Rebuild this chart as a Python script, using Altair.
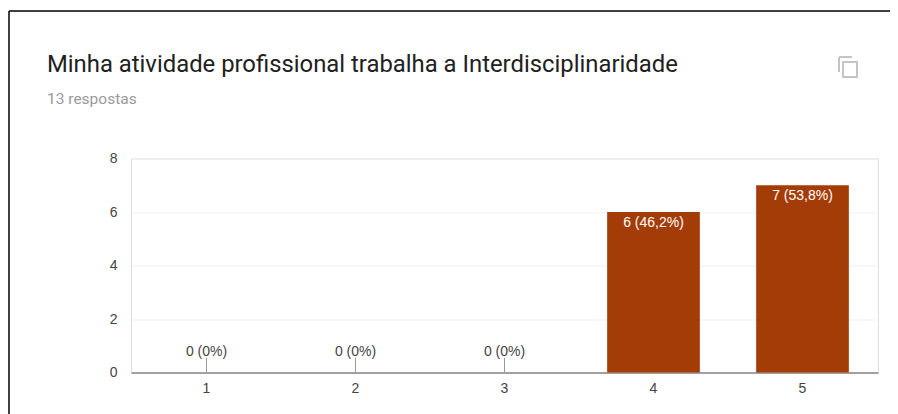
import altair as alt
import pandas as pd

categories = ["1", "2", "3", "4", "5"]
counts = [0, 0, 0, 6, 7]
labels = ["0 (0%)", "0 (0%)", "0 (0%)", "6 (46,2%)", "7 (53,8%)"]
stem_tops = [0.55, 0.55, 0.55, 0, 0]
title_text = "Minha atividade profissional trabalha a Interdisciplinaridade"
subtitle_text = "13 respostas"

df = pd.DataFrame({"cat": categories, "n": counts, "label": labels, "stem": stem_tops})
one = df.head(1)

x = alt.X("cat:N", sort=categories, title=None,
          scale=alt.Scale(paddingInner=0.378, paddingOuter=0.1957),
          axis=alt.Axis(labelAngle=0, ticks=False, grid=False, domainColor="#555555",
                        domainWidth=1.2, labelColor="#444444", labelFont="Liberation Sans",
                        labelFontSize=14, labelPadding=9))
y = alt.Y("n:Q", title=None, scale=alt.Scale(domain=[0, 8], nice=False),
          axis=alt.Axis(values=[0, 2, 4, 6, 8], ticks=False, domain=False, grid=True,
                        gridColor="#efefef", labelColor="#444444", labelFont="Liberation Sans",
                        labelFontSize=14, labelPadding=14))

bars = alt.Chart(df).mark_bar(color="#a43c07").encode(x=x, y=y)
stems = alt.Chart(df).transform_filter("datum.n == 0").mark_rule(color="#999999", strokeWidth=1).encode(
    x=alt.X("cat:N", sort=categories), y=alt.Y("n:Q"), y2=alt.Y2("stem:Q"))
zero_text = alt.Chart(df).transform_filter("datum.n == 0").mark_text(
    font="Liberation Sans", fontSize=14, color="#444444", dy=-21).encode(
    x=alt.X("cat:N", sort=categories), y=alt.Y("n:Q"), text="label:N")
bar_text = alt.Chart(df).transform_filter("datum.n > 0").mark_text(
    font="Liberation Sans", fontSize=14, color="#ffffff", dy=10.5).encode(
    x=alt.X("cat:N", sort=categories), y=alt.Y("n:Q"), text="label:N")

title_mark = alt.Chart(one).mark_text(
    text=title_text, font="Roboto", fontSize=23.85, color="#212121", align="left", baseline="alphabetic").encode(
    x=alt.value(-84), y=alt.value(-86.5))
subtitle_mark = alt.Chart(one).mark_text(
    text=subtitle_text, font="Roboto", fontSize=15.5, color="#9a9a9a", align="left", baseline="alphabetic").encode(
    x=alt.value(-84), y=alt.value(-54.5))

# page frame and copy icon (decoration, not data)
frame_top = alt.Chart(one).mark_rule(color="#000000", strokeWidth=1.5, clip=False).encode(
    x=alt.value(-122), x2=alt.value(770), y=alt.value(-147.5))
frame_left = alt.Chart(one).mark_rule(color="#000000", strokeWidth=1.5, clip=False).encode(
    x=alt.value(-122), y=alt.value(-147.5), y2=alt.value(260))
icon_front = alt.Chart(one).mark_rect(fill="#ffffff", stroke="#c4c4c4", strokeWidth=2).encode(
    x=alt.value(712), x2=alt.value(726), y=alt.value(-96.5), y2=alt.value(-81.5))
icon_back_h = alt.Chart(one).mark_rule(color="#c4c4c4", strokeWidth=2).encode(
    x=alt.value(708), x2=alt.value(721), y=alt.value(-101.5))
icon_back_v = alt.Chart(one).mark_rule(color="#c4c4c4", strokeWidth=2).encode(
    x=alt.value(708), y=alt.value(-101.5), y2=alt.value(-86.5))

chart = alt.layer(bars, stems, zero_text, bar_text, title_mark, subtitle_mark, frame_top, frame_left,
                  icon_back_h, icon_back_v, icon_front).properties(
    width=747, height=214,
    autosize=alt.AutoSizeParams(type="none"),
    padding={"left": 123, "top": 150.5, "right": 12, "bottom": 42},
).configure_view(stroke="#efefef").configure(background="#ffffff")

chart.save("out.html", embed_options={"renderer": "svg", "actions": False})
